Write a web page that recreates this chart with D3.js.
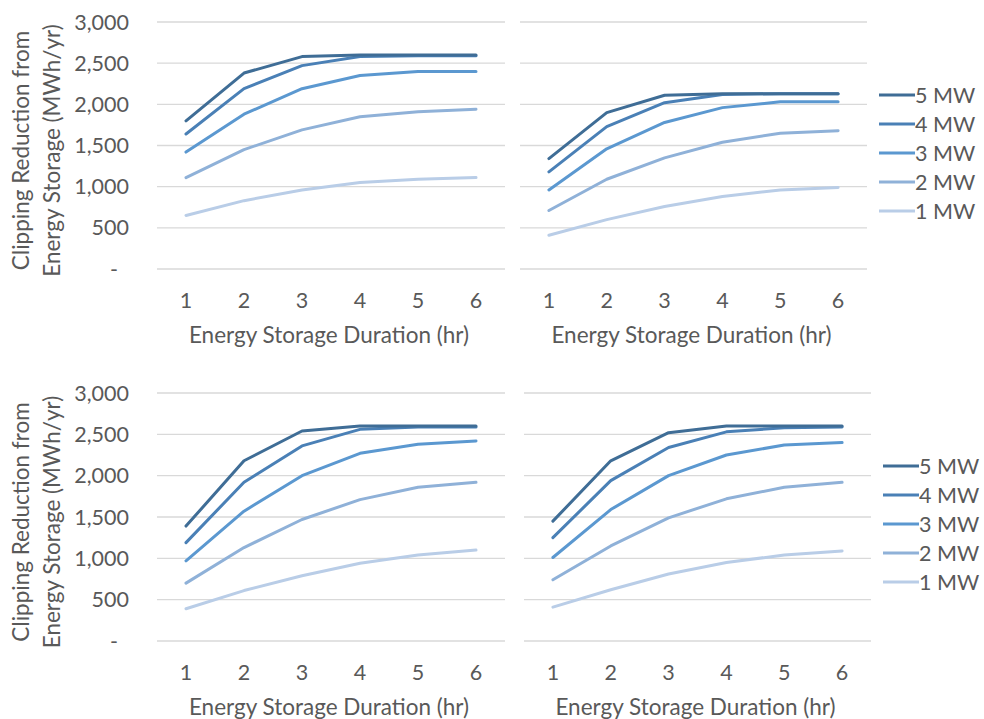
<!DOCTYPE html>
<html>
<head>
<meta charset="utf-8">
<script src="https://cdn.jsdelivr.net/npm/d3@7"></script>
<style>
  body { margin: 0; background: #fff; }
  svg { display: block; }
  text { font-family: Lato, "Open Sans", sans-serif; fill: #595959; }
</style>
</head>
<body>
<svg id="chart" width="984" height="719"></svg>
<script>
const durations = ["1", "2", "3", "4", "5", "6"];
const seriesNames = ["5 MW", "4 MW", "3 MW", "2 MW", "1 MW"];
const seriesColors = ["#3f6d96", "#4a80b6", "#5b98d0", "#8fb1d8", "#b9cde7"];
const yTicks = [0, 500, 1000, 1500, 2000, 2500, 3000];

// Panel values, one row per series (5 MW ... 1 MW), one column per duration (1..6 hr)
const topLeft = [
  [1800, 2380, 2580, 2600, 2600, 2600],
  [1640, 2190, 2470, 2580, 2590, 2590],
  [1420, 1880, 2190, 2350, 2400, 2400],
  [1110, 1450, 1690, 1850, 1910, 1940],
  [650, 830, 960, 1050, 1090, 1110]
];
const topRight = [
  [1340, 1900, 2110, 2130, 2130, 2130],
  [1180, 1730, 2020, 2120, 2130, 2130],
  [960, 1460, 1780, 1960, 2030, 2030],
  [710, 1090, 1350, 1540, 1650, 1680],
  [410, 600, 760, 880, 960, 990]
];
const bottomLeft = [
  [1390, 2180, 2540, 2600, 2600, 2600],
  [1190, 1920, 2360, 2560, 2590, 2590],
  [970, 1570, 2000, 2270, 2380, 2420],
  [700, 1130, 1470, 1710, 1860, 1920],
  [390, 610, 790, 940, 1040, 1100]
];
const bottomRight = [
  [1450, 2180, 2520, 2600, 2600, 2600],
  [1250, 1940, 2340, 2530, 2580, 2590],
  [1010, 1590, 2000, 2250, 2370, 2400],
  [740, 1150, 1490, 1720, 1860, 1920],
  [410, 620, 810, 950, 1040, 1090]
];

const panels = [
  { data: topLeft, x0: 157, x1: 505, y0: 22, y1: 269, yAxis: true, legend: false },
  { data: topRight, x0: 520, x1: 867, y0: 22, y1: 269, yAxis: false, legend: true },
  { data: bottomLeft, x0: 157, x1: 505, y0: 393, y1: 641, yAxis: true, legend: false },
  { data: bottomRight, x0: 524, x1: 871, y0: 393, y1: 641, yAxis: false, legend: true }
];

const svg = d3.select("#chart");
const fs = 21.5;

panels.forEach(p => {
  const g = svg.append("g");
  const x = d3.scaleBand().domain(durations).range([p.x0, p.x1]).padding(0);
  const y = d3.scaleLinear().domain([0, 3000]).range([p.y1, p.y0]);
  const cx = d => x(d) + x.bandwidth() / 2;

  // gridlines
  g.selectAll("line.grid").data(yTicks).join("line")
    .attr("x1", p.x0).attr("x2", p.x1)
    .attr("y1", d => y(d)).attr("y2", d => y(d))
    .attr("stroke", "#d9d9d9").attr("stroke-width", 1.3);

  // y tick labels
  if (p.yAxis) {
    g.selectAll("text.ytick").data(yTicks).join("text")
      .attr("x", d => d === 0 ? 118 : 129)
      .attr("y", d => y(d))
      .attr("dy", "0.35em")
      .attr("text-anchor", "end")
      .attr("font-size", fs)
      .text(d => d === 0 ? "-" : d3.format(",")(d));

    const midY = (p.y0 + p.y1) / 2 + 5;
    const t = g.append("text")
      .attr("transform", `translate(29,${midY}) rotate(-90)`)
      .attr("text-anchor", "middle")
      .attr("font-size", 22.5);
    t.append("tspan").attr("x", 0).attr("y", 0).text("Clipping Reduction from");
    t.append("tspan").attr("x", 0).attr("y", 31).text("Energy Storage (MWh/yr)");
  }

  // x tick labels
  g.selectAll("text.xtick").data(durations).join("text")
    .attr("x", d => cx(d))
    .attr("y", p.y1 + 31)
    .attr("dy", "0.35em")
    .attr("text-anchor", "middle")
    .attr("font-size", fs)
    .text(d => d);

  // x axis title
  g.append("text")
    .attr("x", (p.x0 + p.x1) / 2 - 2)
    .attr("y", p.y1 + 66)
    .attr("dy", "0.35em")
    .attr("text-anchor", "middle")
    .attr("font-size", 22.5)
    .text("Energy Storage Duration (hr)");

  // lines (draw lightest first so darker on top)
  const line = d3.line().x((d, i) => cx(durations[i])).y(d => y(d));
  const order = d3.range(seriesNames.length).reverse();
  order.forEach(si => {
    g.append("path")
      .datum(p.data[si])
      .attr("d", line)
      .attr("fill", "none")
      .attr("stroke", seriesColors[si])
      .attr("stroke-width", 3)
      .attr("stroke-linejoin", "round")
      .attr("stroke-linecap", "round");
  });

  if (p.legend) {
    const lx = p.x1 + 12;
    const ly0 = p.y0 + 73;
    seriesNames.forEach((name, i) => {
      const yy = ly0 + i * 29;
      g.append("line")
        .attr("x1", lx).attr("x2", lx + 36)
        .attr("y1", yy).attr("y2", yy)
        .attr("stroke", seriesColors[i]).attr("stroke-width", 3);
      g.append("text")
        .attr("x", lx + 36)
        .attr("y", yy)
        .attr("dy", "0.35em")
        .attr("font-size", fs)
        .text(name);
    });
  }
});
</script>
</body>
</html>
